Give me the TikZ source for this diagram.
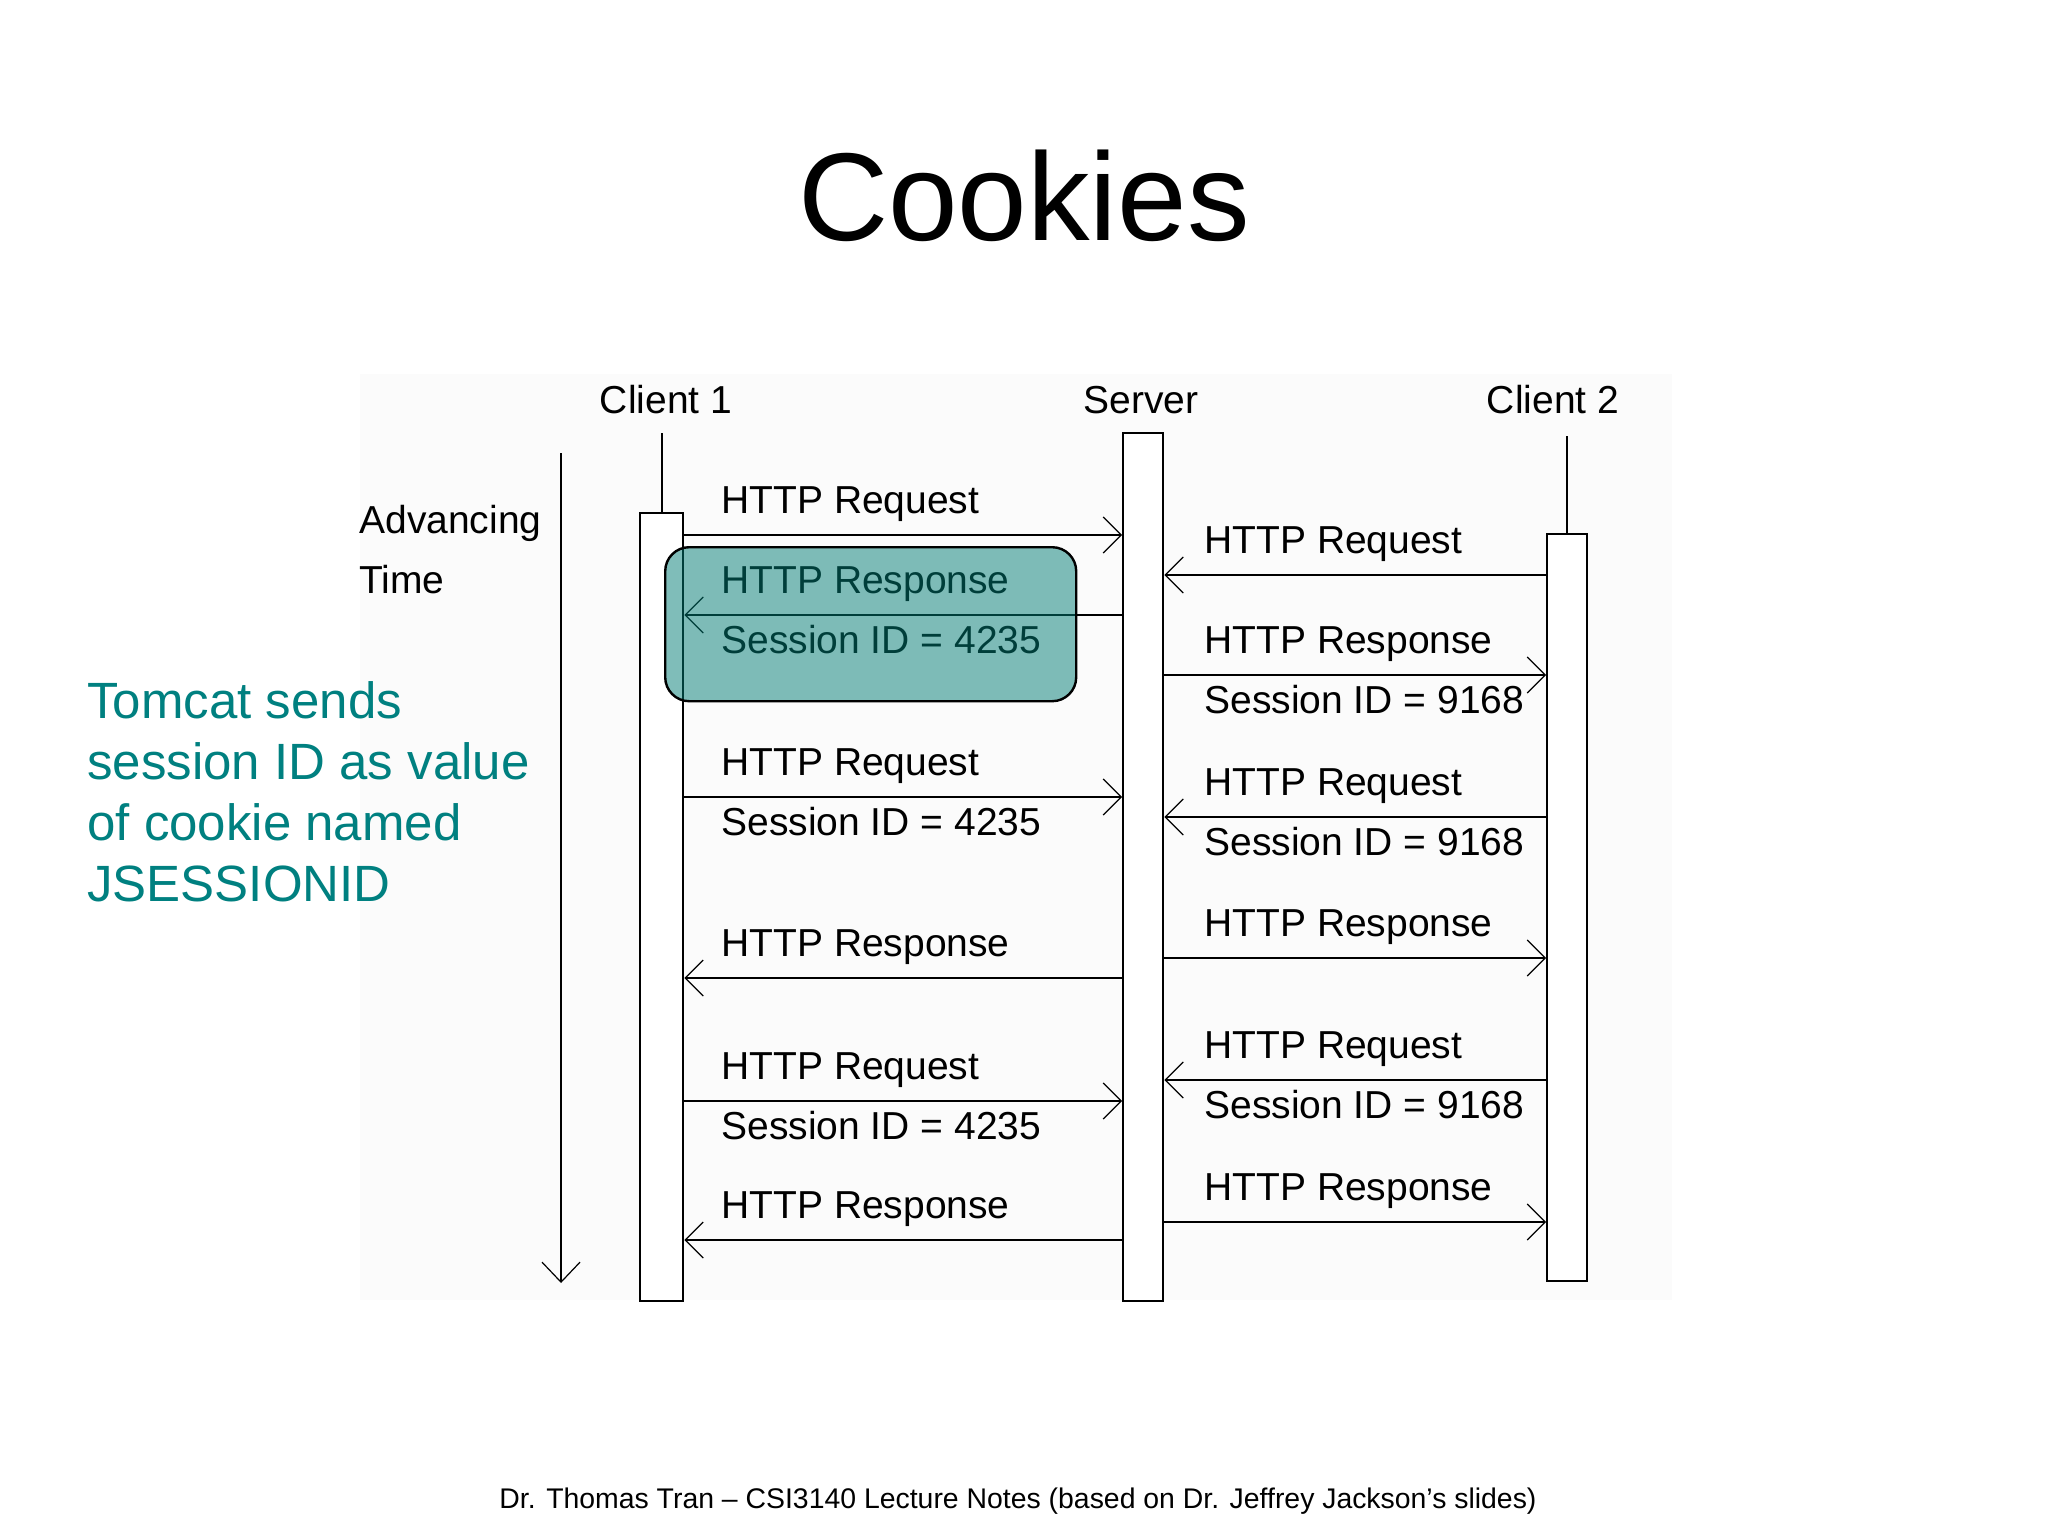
\documentclass[tikz,border=0pt]{standalone}
\usepackage{fontspec}
\setmainfont{Liberation Sans}
\usetikzlibrary{arrows.meta}
\definecolor{tealtxt}{RGB}{0,128,128}
\definecolor{tealbox}{RGB}{0,124,116}
\definecolor{insetbg}{RGB}{251,251,251}
\begin{document}
\begin{tikzpicture}[x=0.5pt,y=-0.5pt,
  lbl/.style={font=\fontsize{19.5}{22}\selectfont, inner sep=0pt, anchor=base west},
  hdr/.style={font=\fontsize{19.5}{22}\selectfont, inner sep=0pt, anchor=base},
  lifebox/.style={draw, line width=1.2pt, fill=white, inner sep=0pt, anchor=north west},
  stub/.style={line width=1.2pt},
  msg/.style={line width=1.1pt, -{Straight Barb[length=9pt,width=18pt,line width=0.6pt]}},
  timearrow/.style={line width=1.1pt, -{Straight Barb[length=10pt,width=19pt,line width=0.6pt]}},
]
\useasboundingbox (0,0) rectangle (2048,1536);
\fill[white] (0,0) rectangle (2048,1536);
\fill[insetbg] (360,374) rectangle (1672,1300);

% title
\node[font=\fontsize{62.5}{70}\selectfont, inner sep=0pt, anchor=base] (title) at (1024,240) {Cookies};

% side note (base anchor = baseline of last line)
\node[font=\fontsize{25.5}{30.5}\selectfont, text=tealtxt, inner sep=0pt, anchor=base west, align=left] (note) at (87,901)
  {Tomcat sends\\session ID as value\\of cookie named\\JSESSIONID};

% footer
\node[font=\fontsize{14.2}{17}\selectfont, inner sep=0pt, anchor=base] (footer) at (1018,1508)
  {Dr. Thomas Tran -- CSI3140 Lecture Notes (based on Dr. Jeffrey Jackson’s slides)};

% headers
\node[hdr] (h1) at (666,413) {Client 1};
\node[hdr] (hs) at (1141,413) {Server};
\node[hdr] (h2) at (1553,413) {Client 2};
\node[lbl] (adv) at (359,533) {Advancing};
\node[lbl] (tim) at (359,593) {Time};

% time arrow
\coordinate (t0) at (561,453);
\coordinate (t1) at (561,1283);
\draw[timearrow] (t0) -- (t1);

% lifelines
\node[lifebox, minimum width=21.5pt, minimum height=394pt] (c1) at (639,512) {};
\node[lifebox, minimum width=20pt, minimum height=434pt] (srv) at (1122,432) {};
\node[lifebox, minimum width=20pt, minimum height=373.5pt] (c2) at (1546,533) {};
\draw[stub] (c1.north) -- ++(0,-79);
\draw[stub] (c2.north) -- ++(0,-97);

% left messages
\draw[msg] (c1.east |- 0,535) -- (srv.west |- 0,535);
\node[lbl] (l1a) at (721,513) {HTTP Request};
\draw[msg] (srv.west |- 0,615) -- (c1.east |- 0,615);
\node[lbl] (l2a) at (721,593) {HTTP Response};
\node[lbl] (l2b) at (721,653) {Session ID = 4235};
\draw[msg] (c1.east |- 0,797) -- (srv.west |- 0,797);
\node[lbl] (l3a) at (721,775) {HTTP Request};
\node[lbl] (l3b) at (721,835) {Session ID = 4235};
\draw[msg] (srv.west |- 0,978) -- (c1.east |- 0,978);
\node[lbl] (l4a) at (721,956) {HTTP Response};
\draw[msg] (c1.east |- 0,1101) -- (srv.west |- 0,1101);
\node[lbl] (l5a) at (721,1079) {HTTP Request};
\node[lbl] (l5b) at (721,1139) {Session ID = 4235};
\draw[msg] (srv.west |- 0,1240) -- (c1.east |- 0,1240);
\node[lbl] (l6a) at (721,1218) {HTTP Response};

% right messages
\draw[msg] (c2.west |- 0,575) -- (srv.east |- 0,575);
\node[lbl] (r1a) at (1204,553) {HTTP Request};
\draw[msg] (srv.east |- 0,675) -- (c2.west |- 0,675);
\node[lbl] (r2a) at (1204,653) {HTTP Response};
\node[lbl] (r2b) at (1204,713) {Session ID = 9168};
\draw[msg] (c2.west |- 0,817) -- (srv.east |- 0,817);
\node[lbl] (r3a) at (1204,795) {HTTP Request};
\node[lbl] (r3b) at (1204,855) {Session ID = 9168};
\draw[msg] (srv.east |- 0,958) -- (c2.west |- 0,958);
\node[lbl] (r4a) at (1204,936) {HTTP Response};
\draw[msg] (c2.west |- 0,1080) -- (srv.east |- 0,1080);
\node[lbl] (r5a) at (1204,1058) {HTTP Request};
\node[lbl] (r5b) at (1204,1118) {Session ID = 9168};
\draw[msg] (srv.east |- 0,1222) -- (c2.west |- 0,1222);
\node[lbl] (r6a) at (1204,1200) {HTTP Response};

% highlight
\node[draw, line width=1.2pt, rounded corners=12pt, fill=tealbox, fill opacity=0.5, draw opacity=1,
  inner sep=0pt, minimum width=205.5pt, minimum height=77pt, anchor=north west] (hl) at (664,546) {};
\end{tikzpicture}
\end{document}
